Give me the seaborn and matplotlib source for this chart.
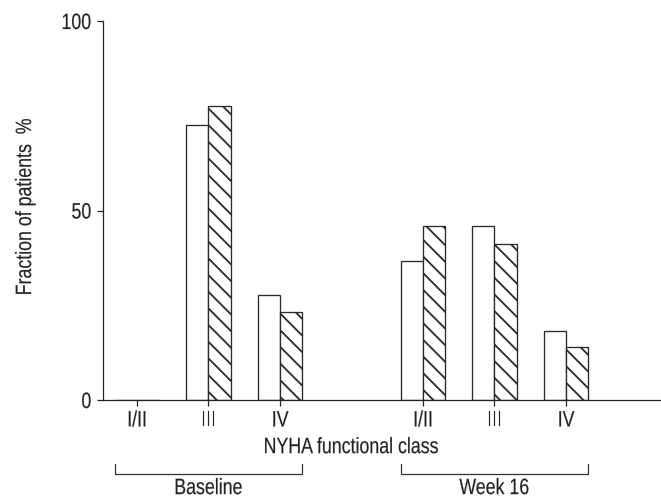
import matplotlib
matplotlib.use("Agg")
import matplotlib.pyplot as plt
import matplotlib.transforms as mtransforms
from matplotlib.patheffects import AbstractPathEffect
import seaborn as sns
import pandas as pd

# ---- data ----
periods = ["Baseline", "Week 16"]
nyha_classes = ["I/II", "III", "IV"]
groups = ["Group A", "Group B"]          # open bars, hatched bars
baseline_a = [0.0, 72.6, 27.7]
baseline_b = [0.0, 77.6, 23.3]
week16_a = [36.8, 45.9, 18.3]
week16_b = [45.9, 41.2, 13.9]
y_ticks = [0, 50, 100]

# ---- tidy table ----
rows = []
for period, va, vb in [(periods[0], baseline_a, baseline_b),
                       (periods[1], week16_a, week16_b)]:
    for cls, a, b in zip(nyha_classes, va, vb):
        rows.append({"slot": f"{period} {cls}", "group": groups[0], "value": a})
        rows.append({"slot": f"{period} {cls}", "group": groups[1], "value": b})
df = pd.DataFrame(rows)

order = [f"{periods[0]} {c}" for c in nyha_classes] + ["gap"] + \
        [f"{periods[1]} {c}" for c in nyha_classes]


class Condense(AbstractPathEffect):
    """Draw text horizontally condensed (like Helvetica Condensed)."""
    def __init__(self, sx=0.8, anchor=0.5, stroke=0.12):
        super().__init__()
        self.sx = sx
        self.anchor = anchor
        self.stroke = stroke

    def draw_path(self, renderer, gc, tpath, affine, rgbFace=None):
        ext = tpath.get_extents()
        a = ext.x0 + self.anchor * ext.width
        t = mtransforms.Affine2D().translate(-a, 0).scale(self.sx, 1).translate(a, 0)
        gc0 = renderer.new_gc()
        gc0.copy_properties(gc)
        if rgbFace is not None:
            gc0.set_foreground(rgbFace)
        gc0.set_linewidth(self.stroke)
        renderer.draw_path(gc0, tpath, t + affine, rgbFace)
        gc0.restore()


sns.set_style("ticks")
plt.rcParams["font.family"] = ["Liberation Sans", "DejaVu Sans"]
plt.rcParams["hatch.linewidth"] = 1.3
plt.rcParams["hatch.color"] = "#222222"

fig = plt.figure(figsize=(6.61, 5.01), dpi=100)
ax = fig.add_axes([103 / 661, 101 / 501, 558 / 661, 379 / 501])

sns.barplot(data=df, x="slot", y="value", hue="group", order=order,
            hue_order=groups, palette=["white", "white"], width=0.624,
            edgecolor="#2a2a2a", linewidth=0.95, legend=False, ax=ax,
            errorbar=None, saturation=1)

for bar in ax.containers[1]:
    bar.set_hatch("\\\\")

text_color = "#222222"
fs = 16
cond_c = [Condense(0.8, 0.5)]
cond_r = [Condense(0.8, 1.0)]

pos = [order.index(s) for s in order if s != "gap"]
ax.set_xticks(pos)
ax.set_xticklabels(nyha_classes * 2, fontsize=fs, color=text_color)
ax.set_xlim(-0.4755, 7.33)
ax.set_ylim(0, 100)
ax.set_yticks(y_ticks)
ax.set_yticklabels([str(t) for t in y_ticks], fontsize=fs, color=text_color)

ax.tick_params(axis="x", length=4, width=0.9, pad=3.5, colors="#222222")
ax.tick_params(axis="y", length=4.3, width=0.9, pad=4, colors="#222222")
for lab in ax.get_xticklabels():
    lab.set_color(text_color)
    lab.set_path_effects(cond_c)
for lab in ax.get_yticklabels():
    lab.set_color(text_color)
    lab.set_path_effects(cond_r)

sns.despine(ax=ax)
for sp in ["left", "bottom"]:
    ax.spines[sp].set_linewidth(0.9)
    ax.spines[sp].set_color("#222222")

ax.set_xlabel("NYHA functional class", fontsize=fs, color=text_color,
              path_effects=cond_c)
xl = ax.get_xlim()
center = (pos[0] + pos[-1]) / 2
ax.xaxis.set_label_coords((center - xl[0]) / (xl[1] - xl[0]), -0.098)
ax.set_ylabel("Fraction of patients  %", fontsize=fs, color=text_color,
              path_effects=cond_c)
ax.yaxis.set_label_coords(-0.12, 0.51)

# group brackets under the axis
trans = mtransforms.blended_transform_factory(ax.transData, ax.transAxes)
y_line, y_top, y_text = -0.195, -0.169, -0.206
half = 0.624 / 2
for period, idxs in [(periods[0], pos[:3]), (periods[1], pos[3:])]:
    x0, x1 = idxs[0] - half, idxs[-1] + half
    ax.plot([x0, x0, x1, x1], [y_top, y_line, y_line, y_top], transform=trans,
            color="#333333", lw=0.9, clip_on=False)
    ax.text((idxs[0] + idxs[-1]) / 2, y_text, period, transform=trans,
            ha="center", va="top", fontsize=fs, color=text_color,
            path_effects=cond_c)

fig.savefig("out.png", dpi=100)
